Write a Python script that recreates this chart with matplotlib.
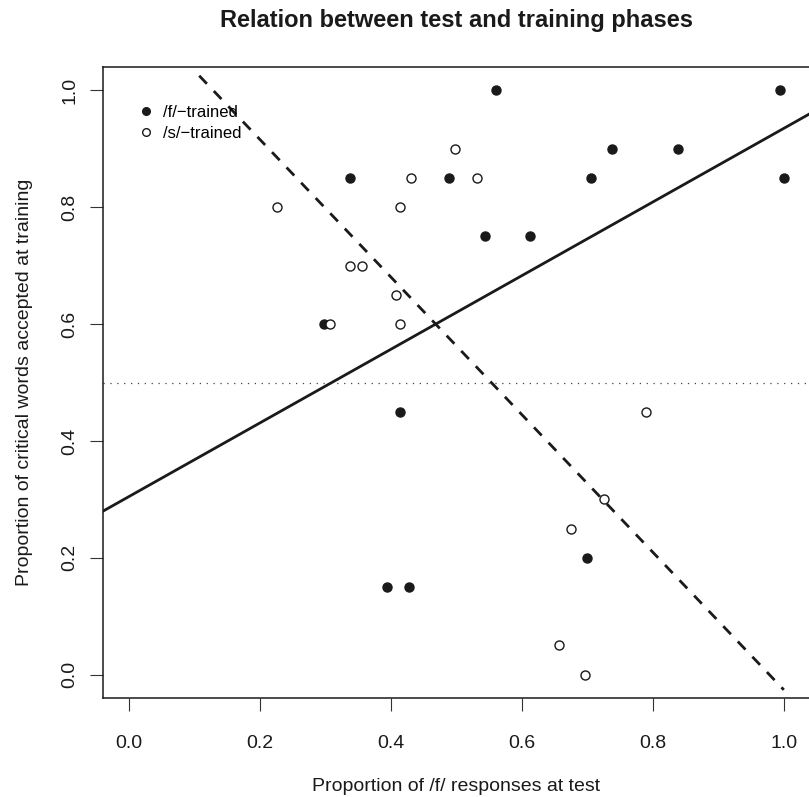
# scatter of training vs test proportions, with two fitted lines
import matplotlib
matplotlib.use("Agg")
import matplotlib.pyplot as plt
from matplotlib.lines import Line2D

plt.rcParams['font.family'] = ['Liberation Sans', 'DejaVu Sans']

# /f/-trained participants (filled points)
f_test = [0.561, 0.994, 0.338, 0.488, 0.706, 1.0, 0.738, 0.838, 0.544, 0.613,
          0.297, 0.413, 0.394, 0.428, 0.700]
f_train = [1.0, 1.0, 0.85, 0.85, 0.85, 0.85, 0.9, 0.9, 0.75, 0.75,
           0.6, 0.45, 0.15, 0.15, 0.2]

# /s/-trained participants (open points)
s_test = [0.226, 0.414, 0.431, 0.497, 0.532, 0.338, 0.356, 0.407, 0.413, 0.306,
          0.790, 0.725, 0.675, 0.656, 0.696]
s_train = [0.8, 0.8, 0.85, 0.9, 0.85, 0.7, 0.7, 0.65, 0.6, 0.6,
           0.45, 0.3, 0.25, 0.05, 0.0]

# fitted lines: (intercept, slope)
solid_fit = (0.305, 0.63)
dashed_fit = (1.151, -1.177)
dashed_range = [0.107, 1.0]
chance = 0.5

ticks = [0.0, 0.2, 0.4, 0.6, 0.8, 1.0]
tick_labels = ["0.0", "0.2", "0.4", "0.6", "0.8", "1.0"]

W, H = 809, 797
fig = plt.figure(figsize=(W / 100, H / 100), dpi=100)
left, right, top, bottom = 103, 810, 67, 698
ax = fig.add_axes([left / W, (H - bottom) / H, (right - left) / W, (bottom - top) / H])

ax.axhline(chance, color="#444444", lw=0.9, linestyle=(0, (1, 4.5)))
ax.axline((0, solid_fit[0]), slope=solid_fit[1], color="#1a1a1a", lw=2)
dash_y = [dashed_fit[0] + dashed_fit[1] * x for x in dashed_range]
ax.plot(dashed_range, dash_y, color="#1a1a1a", lw=2, linestyle=(0, (4, 3.6)))

ax.plot(f_test, f_train, "o", color="#1a1a1a", ms=6.5, mec="#1a1a1a", mew=1)
ax.plot(s_test, s_train, "o", mfc="white", mec="#1a1a1a", ms=6.5, mew=1)

ax.set_xlim(-0.04, 1.04)
ax.set_ylim(-0.04, 1.04)
ax.set_xticks(ticks)
ax.set_xticklabels(tick_labels)
ax.set_yticks(ticks)
ax.set_yticklabels(tick_labels, rotation=90, va="center")
ax.tick_params(labelsize=14, length=9.5, width=0.8, color="#333333",
               labelcolor="#1a1a1a")
ax.tick_params(axis="x", pad=17)
ax.tick_params(axis="y", pad=8)
for sp in ax.spines.values():
    sp.set_linewidth(1.1)
    sp.set_color("#1a1a1a")

ax.set_title("Relation between test and training phases", fontsize=17,
             fontweight="bold", pad=29, color="#1a1a1a")
ax.set_xlabel("Proportion of /f/ responses at test", fontsize=14, labelpad=19,
              color="#1a1a1a")
ax.set_ylabel("Proportion of critical words accepted at training", fontsize=14,
              labelpad=20.5, color="#1a1a1a")

handles = [
    Line2D([], [], marker="o", ls="", color="#1a1a1a", ms=5.5),
    Line2D([], [], marker="o", ls="", mfc="white", mec="#1a1a1a", ms=5.5),
]
ax.legend(handles, ["/f/\u2212trained", "/s/\u2212trained"], loc="upper left",
          bbox_to_anchor=(0.028, 0.95), frameon=False, fontsize=12,
          handletextpad=0.0, labelspacing=0.35, borderaxespad=0)

fig.savefig("out.png", dpi=100)
